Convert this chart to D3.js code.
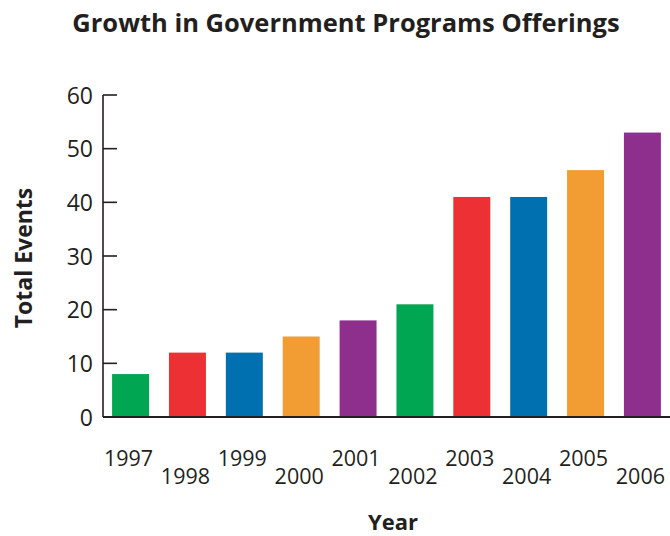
<!DOCTYPE html>
<html>
<head>
<meta charset="utf-8">
<script src="https://cdn.jsdelivr.net/npm/d3@7"></script>
<style>
  html, body { margin: 0; padding: 0; background: #fff; }
  svg { display: block; }
</style>
</head>
<body>
<svg id="chart" width="670" height="536"></svg>
<script>
const years = ["1997","1998","1999","2000","2001","2002","2003","2004","2005","2006"];
const totalEvents = [8, 12, 12, 15, 18, 21, 41, 41, 46, 53];
const barColors = ["#00a651","#ec3033","#0070b0","#f29c34","#8e2f8e","#00a651","#ec3033","#0070b0","#f29c34","#8e2f8e"];
const yTicks = [0, 10, 20, 30, 40, 50, 60];
const titleText = "Growth in Government Programs Offerings";
const yLabel = "Total Events";
const xLabel = "Year";

const svg = d3.select("#chart");
const ink = "#231f20";
const font = "'Open Sans', 'Noto Sans', sans-serif";

const x = d3.scaleBand().domain(years).range([103, 670]).paddingInner(0.35).paddingOuter(0.16);
const y = d3.scaleLinear().domain([0, 60]).range([417, 95]);

// title
svg.append("text")
  .attr("x", 346).attr("y", 32)
  .attr("text-anchor", "middle")
  .attr("font-family", font).attr("font-weight", "bold").attr("font-size", 25.5)
  .attr("fill", ink)
  .text(titleText);

// bars
svg.append("g").selectAll("rect")
  .data(years)
  .join("rect")
  .attr("x", d => x(d))
  .attr("width", x.bandwidth())
  .attr("y", (d, i) => y(totalEvents[i]))
  .attr("height", (d, i) => y(0) - y(totalEvents[i]))
  .attr("fill", (d, i) => barColors[i]);

// y axis (ticks pointing inward)
const yAxis = svg.append("g");
yAxis.append("line")
  .attr("x1", 103).attr("x2", 103)
  .attr("y1", y(60)).attr("y2", y(0))
  .attr("stroke", ink).attr("stroke-width", 1.6);
yAxis.selectAll("line.tick")
  .data(yTicks.filter(t => t > 0))
  .join("line").attr("class", "tick")
  .attr("x1", 103).attr("x2", 117)
  .attr("y1", d => y(d)).attr("y2", d => y(d))
  .attr("stroke", ink).attr("stroke-width", 1.6);
yAxis.selectAll("text")
  .data(yTicks)
  .join("text")
  .attr("x", 93).attr("y", d => y(d))
  .attr("dy", "0.37em")
  .attr("text-anchor", "end")
  .attr("font-family", font).attr("font-size", 23)
  .attr("fill", ink)
  .text(d => d);

// x baseline
svg.append("line")
  .attr("x1", 103).attr("x2", 670)
  .attr("y1", y(0)).attr("y2", y(0))
  .attr("stroke", ink).attr("stroke-width", 2);

// year labels, staggered
svg.append("g").selectAll("text")
  .data(years)
  .join("text")
  .attr("x", d => x(d) + x.bandwidth() / 2 - 2)
  .attr("y", (d, i) => i % 2 === 0 ? 466 : 484)
  .attr("text-anchor", "middle")
  .attr("font-family", font).attr("font-size", 21.5)
  .attr("fill", ink)
  .text(d => d);

// axis titles
svg.append("text")
  .attr("transform", "translate(32,258) rotate(-90)")
  .attr("text-anchor", "middle")
  .attr("font-family", font).attr("font-weight", "bold").attr("font-size", 23)
  .attr("fill", ink)
  .text(yLabel);

svg.append("text")
  .attr("x", 393).attr("y", 530)
  .attr("text-anchor", "middle")
  .attr("font-family", font).attr("font-weight", "bold").attr("font-size", 22)
  .attr("fill", ink)
  .text(xLabel);
</script>
</body>
</html>
